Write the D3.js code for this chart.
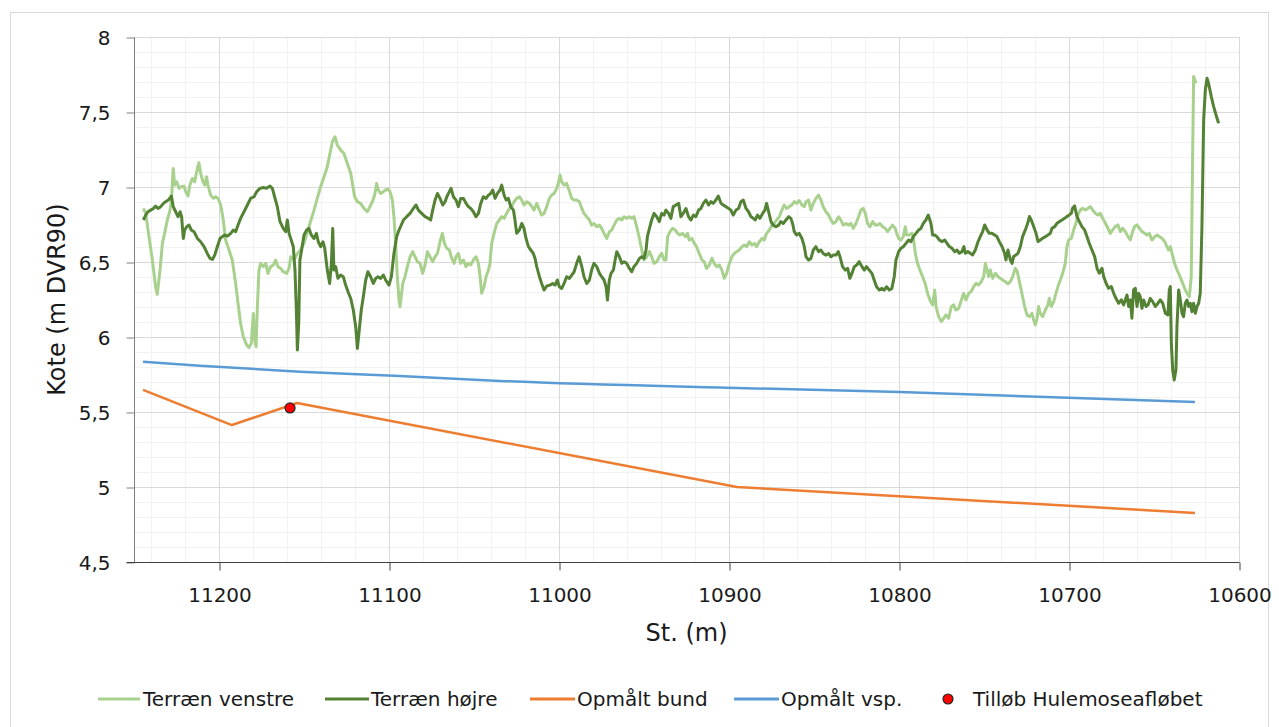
<!DOCTYPE html>
<html>
<head>
<meta charset="utf-8">
<script src="https://cdn.jsdelivr.net/npm/d3@7"></script>
<style>
html,body{margin:0;padding:0;background:#fff;}
svg{display:block;}
text{font-family:"DejaVu Sans",sans-serif;fill:#1a1a1a;}
</style>
</head>
<body>
<svg id="chart" width="1279" height="727"></svg>
<script>
// ---------------- DATA ----------------
const xTicks = [11200, 11100, 11000, 10900, 10800, 10700, 10600];
const yTicks = [4.5, 5, 5.5, 6, 6.5, 7, 7.5, 8];
const yTickLabels = ["4,5", "5", "5,5", "6", "6,5", "7", "7,5", "8"];
const seriesNames = ["Terræn venstre", "Terræn højre", "Opmålt bund", "Opmålt vsp.", "Tilløb Hulemoseafløbet"];

// Terræn venstre [station, kote]
const terraenVenstre = [
[11244.5,6.857],[11243.1,6.824],[11241.2,6.669],[11239.2,6.513],[11237.3,6.335],[11236.3,6.284],[11234.7,6.446],[11233.3,6.624],
[11232.0,6.691],[11230.4,6.78],[11228.8,6.846],[11228.0,6.913],[11226.9,7.124],[11226.1,7.013],[11224.9,7.035],[11223.5,6.991],
[11222.2,7.002],[11220.6,7.006],[11219.6,6.969],[11218.2,6.94],[11217.1,7.013],[11215.7,7.057],[11214.3,7.035],[11212.7,7.124],
[11211.8,7.162],[11210.8,7.091],[11209.4,7.035],[11208.4,7.013],[11207.3,7.069],[11206.5,7.013],[11204.9,6.946],[11203.3,6.924],
[11202.0,6.935],[11200.6,6.924],[11199.0,6.88],[11197.5,6.78],[11196.1,6.646],[11194.1,6.58],[11192.2,6.513],[11190.2,6.357],
[11188.8,6.224],[11187.3,6.091],[11185.7,6.002],[11183.7,5.946],[11182.4,5.931],[11181.0,5.957],[11179.8,6.157],[11179.0,5.98],
[11178.2,5.935],[11177.5,6.18],[11176.5,6.446],[11175.5,6.491],[11173.9,6.469],[11172.5,6.491],[11171.2,6.424],[11169.6,6.469],
[11168.0,6.48],[11166.7,6.513],[11165.3,6.469],[11163.7,6.457],[11162.2,6.435],[11160.2,6.424],[11158.8,6.457],[11157.8,6.535],
[11155.9,6.513],[11153.9,6.557],[11152.0,6.58],[11150.0,6.624],[11147.1,6.735],[11144.1,6.846],[11142.2,6.924],[11140.2,7.002],
[11138.2,7.069],[11136.3,7.135],[11134.7,7.224],[11133.3,7.302],[11131.8,7.335],[11130.4,7.28],[11128.4,7.246],[11126.5,7.224],
[11124.5,7.157],[11122.5,7.091],[11121.2,7.002],[11120.2,6.935],[11118.6,6.902],[11116.7,6.891],[11114.7,6.857],[11112.7,6.835],
[11111.2,6.869],[11109.8,6.902],[11108.4,6.946],[11107.3,7.024],[11106.3,6.98],[11104.9,6.957],[11103.3,6.969],[11102.0,6.98],
[11100.6,6.986],[11099.4,6.969],[11098.0,6.913],[11097.1,6.802],[11096.1,6.624],[11095.1,6.402],[11094.1,6.246],[11093.5,6.202],
[11091.9,6.357],[11090.6,6.402],[11089.2,6.469],[11087.6,6.535],[11086.0,6.569],[11084.7,6.535],[11083.3,6.502],[11081.7,6.491],
[11080.2,6.424],[11078.8,6.48],[11077.4,6.569],[11075.9,6.535],[11074.3,6.502],[11072.9,6.535],[11071.5,6.557],[11070.0,6.635],
[11068.6,6.691],[11067.4,6.624],[11066.0,6.591],[11064.5,6.58],[11063.1,6.524],[11061.7,6.491],[11060.6,6.535],[11059.2,6.557],
[11057.8,6.491],[11056.2,6.513],[11054.7,6.469],[11053.3,6.491],[11051.9,6.48],[11050.4,6.513],[11048.8,6.535],[11047.4,6.491],
[11046.4,6.402],[11045.5,6.291],[11044.1,6.335],[11042.9,6.402],[11041.5,6.446],[11040.6,6.491],[11039.6,6.624],[11038.2,6.691],
[11036.6,6.757],[11035.1,6.78],[11033.7,6.802],[11032.3,6.791],[11030.8,6.824],[11029.2,6.857],[11027.8,6.869],[11026.4,6.902],
[11024.9,6.924],[11023.3,6.935],[11021.9,6.913],[11020.6,6.88],[11019.0,6.902],[11017.4,6.891],[11016.0,6.869],[11014.7,6.846],
[11013.1,6.891],[11011.5,6.846],[11010.2,6.813],[11008.8,6.824],[11007.2,6.869],[11005.7,6.924],[11004.3,6.946],[11002.9,6.957],
[11001.3,6.991],[11000.2,7.035],[10999.4,7.08],[10998.4,7.035],[10997.0,7.013],[10995.5,7.024],[10994.1,6.98],[10992.5,6.924],
[10991.1,6.913],[10989.6,6.913],[10988.0,6.902],[10986.6,6.857],[10985.3,6.824],[10983.7,6.802],[10982.1,6.78],[10980.8,6.746],
[10979.4,6.757],[10977.8,6.735],[10976.2,6.746],[10974.9,6.724],[10973.5,6.691],[10971.9,6.657],[10970.4,6.702],[10969.0,6.713],
[10967.6,6.746],[10966.0,6.78],[10964.5,6.791],[10963.1,6.78],[10961.7,6.802],[10960.2,6.791],[10958.6,6.802],[10957.2,6.791],
[10955.9,6.802],[10954.3,6.735],[10952.7,6.657],[10951.3,6.58],[10950.0,6.513],[10948.4,6.535],[10946.8,6.569],[10945.5,6.535],
[10944.1,6.491],[10942.5,6.502],[10941.0,6.535],[10939.6,6.557],[10938.2,6.513],[10937.1,6.513],[10936.1,6.669],[10934.7,6.702],
[10933.2,6.724],[10931.6,6.713],[10930.2,6.691],[10928.9,6.68],[10927.3,6.691],[10925.7,6.669],[10924.4,6.691],[10923.4,6.646],
[10921.8,6.657],[10920.4,6.624],[10919.1,6.602],[10917.5,6.557],[10915.9,6.513],[10914.6,6.502],[10913.2,6.457],[10911.6,6.48],
[10910.0,6.524],[10908.7,6.491],[10907.3,6.469],[10905.7,6.48],[10904.2,6.446],[10902.8,6.391],[10901.4,6.424],[10899.8,6.491],
[10898.3,6.535],[10896.9,6.557],[10895.5,6.569],[10894.0,6.58],[10892.4,6.602],[10891.0,6.613],[10889.6,6.602],[10888.1,6.635],
[10886.5,6.613],[10885.1,6.624],[10883.8,6.602],[10882.2,6.635],[10880.6,6.657],[10879.3,6.646],[10877.9,6.691],[10876.3,6.713],
[10874.7,6.746],[10873.4,6.757],[10872.0,6.78],[10870.4,6.802],[10868.9,6.846],[10867.5,6.88],[10866.1,6.857],[10864.6,6.869],
[10863.0,6.88],[10861.6,6.902],[10860.2,6.891],[10858.7,6.909],[10857.1,6.88],[10855.7,6.869],[10854.7,6.902],[10853.2,6.913],
[10851.8,6.846],[10850.4,6.891],[10848.9,6.924],[10847.3,6.946],[10845.9,6.913],[10844.6,6.869],[10843.0,6.835],[10841.4,6.813],
[10840.0,6.78],[10838.7,6.757],[10837.1,6.769],[10835.5,6.802],[10834.2,6.78],[10832.8,6.746],[10831.2,6.757],[10829.6,6.746],
[10828.3,6.757],[10826.9,6.724],[10825.3,6.757],[10823.8,6.802],[10822.4,6.846],[10821.0,6.857],[10819.8,6.824],[10818.5,6.757],
[10817.1,6.735],[10815.5,6.769],[10814.0,6.746],[10812.6,6.746],[10811.2,6.757],[10809.6,6.735],[10808.1,6.724],[10806.7,6.702],
[10805.3,6.724],[10803.8,6.746],[10802.2,6.724],[10801.4,6.691],[10800.2,6.657],[10798.9,6.646],[10797.5,6.669],[10796.3,6.735],
[10795.5,6.68],[10794.0,6.68],[10792.4,6.691],[10791.6,6.669],[10790.4,6.557],[10789.1,6.491],[10787.7,6.446],[10786.1,6.402],
[10784.6,6.357],[10783.2,6.291],[10781.8,6.246],[10780.2,6.213],[10779.0,6.314],[10778.2,6.203],[10776.7,6.136],[10775.1,6.103],
[10773.7,6.125],[10772.4,6.147],[10770.8,6.125],[10769.2,6.203],[10767.9,6.214],[10766.5,6.18],[10764.9,6.191],[10763.3,6.247],
[10762.0,6.291],[10760.6,6.247],[10759.0,6.291],[10757.5,6.303],[10756.1,6.336],[10754.7,6.358],[10753.1,6.347],[10751.6,6.369],
[10750.2,6.403],[10749.2,6.491],[10748.2,6.447],[10747.3,6.403],[10746.3,6.447],[10744.9,6.391],[10743.3,6.425],[10741.8,6.403],
[10740.4,6.391],[10739.0,6.38],[10737.5,6.369],[10735.9,6.354],[10734.5,6.369],[10733.1,6.403],[10731.6,6.458],[10730.4,6.436],
[10729.2,6.369],[10727.7,6.291],[10726.1,6.203],[10724.7,6.147],[10723.3,6.136],[10721.8,6.158],[10720.8,6.114],[10719.8,6.08],
[10718.8,6.125],[10717.9,6.203],[10716.9,6.158],[10715.5,6.136],[10713.9,6.18],[10712.4,6.214],[10711.6,6.258],[10710.4,6.203],
[10709.0,6.236],[10707.7,6.291],[10706.5,6.336],[10705.1,6.38],[10703.7,6.425],[10702.2,6.491],[10701.2,6.603],[10700.2,6.647],
[10698.6,6.658],[10697.3,6.714],[10695.9,6.758],[10694.7,6.814],[10693.3,6.847],[10692.0,6.858],[10690.4,6.847],[10688.8,6.858],
[10687.5,6.869],[10686.1,6.847],[10684.5,6.825],[10683.0,6.814],[10681.6,6.825],[10680.2,6.791],[10678.6,6.758],[10677.1,6.725],
[10675.7,6.691],[10674.3,6.714],[10672.8,6.736],[10671.2,6.747],[10669.8,6.703],[10668.4,6.725],[10666.9,6.703],[10665.3,6.669],
[10663.9,6.647],[10662.6,6.703],[10661.4,6.736],[10660.0,6.747],[10658.6,6.725],[10657.1,6.703],[10655.5,6.691],[10654.1,6.68],
[10652.8,6.691],[10651.2,6.647],[10649.6,6.669],[10648.2,6.68],[10646.9,6.669],[10645.3,6.658],[10643.7,6.636],[10642.4,6.603],
[10641.4,6.58],[10640.4,6.603],[10639.4,6.558],[10637.9,6.491],[10636.5,6.447],[10635.1,6.414],[10633.5,6.369],[10632.0,6.325],
[10630.6,6.291],[10629.2,6.269],[10628.1,6.403],[10627.3,7.18],[10626.7,7.736],[10625.7,7.703],[10625.3,7.691]
];

// Terræn højre [station, kote]
const terraenHoejre = [
[11244.5,6.78],[11243.1,6.813],[11241.8,6.835],[11240.2,6.846],[11238.6,6.857],[11237.3,6.873],[11235.9,6.857],[11234.3,6.869],
[11232.7,6.891],[11231.4,6.902],[11229.8,6.913],[11228.0,6.94],[11226.9,6.869],[11225.5,6.835],[11224.1,6.802],[11222.9,6.835],
[11222.0,6.802],[11221.0,6.657],[11220.2,6.713],[11219.0,6.735],[11217.6,6.746],[11216.3,6.713],[11214.7,6.702],[11212.7,6.657],
[11210.8,6.635],[11208.8,6.602],[11206.9,6.557],[11205.3,6.524],[11203.9,6.517],[11202.5,6.546],[11201.0,6.602],[11199.4,6.657],
[11198.0,6.669],[11196.7,6.68],[11195.1,6.673],[11193.1,6.691],[11191.6,6.713],[11190.2,6.702],[11188.8,6.746],[11187.3,6.791],
[11185.3,6.835],[11183.3,6.88],[11181.4,6.924],[11179.4,6.935],[11177.8,6.969],[11175.9,6.991],[11173.9,6.997],[11172.0,6.991],
[11170.0,7.006],[11168.6,6.991],[11167.3,6.935],[11165.7,6.869],[11164.1,6.769],[11162.2,6.724],[11160.8,6.702],[11159.8,6.78],
[11158.8,6.691],[11157.5,6.646],[11156.3,6.602],[11155.3,6.446],[11154.5,6.18],[11153.9,5.913],[11153.1,6.091],[11152.4,6.513],
[11151.4,6.58],[11150.0,6.68],[11148.4,6.713],[11147.1,6.724],[11145.7,6.68],[11144.1,6.657],[11142.7,6.691],[11141.6,6.635],
[11140.2,6.602],[11138.8,6.635],[11137.8,6.591],[11136.3,6.446],[11134.9,6.357],[11133.9,6.491],[11133.1,6.724],[11132.4,6.446],
[11131.4,6.469],[11130.0,6.391],[11128.4,6.413],[11126.9,6.402],[11125.5,6.346],[11124.1,6.302],[11122.5,6.257],[11121.0,6.18],
[11119.6,6.069],[11118.6,5.924],[11117.5,6.046],[11116.3,6.18],[11115.1,6.269],[11113.7,6.38],[11112.4,6.435],[11110.8,6.402],
[11109.2,6.357],[11107.8,6.391],[11106.5,6.402],[11104.9,6.391],[11103.3,6.413],[11102.0,6.38],[11100.0,6.346],[11098.6,6.402],
[11097.1,6.557],[11095.5,6.669],[11094.1,6.713],[11091.5,6.78],[11089.6,6.802],[11087.6,6.824],[11085.7,6.857],[11084.1,6.88],
[11082.7,6.846],[11080.8,6.824],[11078.8,6.802],[11076.8,6.791],[11075.5,6.78],[11074.3,6.846],[11072.9,6.913],[11071.5,6.957],
[11070.0,6.924],[11068.4,6.88],[11067.0,6.902],[11066.0,6.935],[11064.5,6.969],[11063.5,6.991],[11062.1,6.935],[11060.6,6.913],
[11059.2,6.869],[11057.8,6.924],[11056.2,6.924],[11054.7,6.891],[11053.3,6.869],[11051.9,6.857],[11050.4,6.835],[11048.8,6.802],
[11047.4,6.824],[11046.0,6.891],[11044.5,6.935],[11042.9,6.924],[11041.5,6.946],[11040.2,6.957],[11039.0,6.98],[11037.6,6.924],
[11036.2,6.957],[11034.7,6.98],[11033.7,7.013],[11032.3,6.946],[11031.1,6.913],[11029.8,6.924],[11028.4,6.869],[11026.8,6.846],
[11025.9,6.78],[11024.9,6.691],[11023.3,6.713],[11021.9,6.757],[11020.6,6.724],[11019.4,6.657],[11018.0,6.602],[11016.6,6.58],
[11015.1,6.557],[11014.1,6.524],[11013.1,6.469],[11011.5,6.402],[11010.2,6.357],[11008.8,6.313],[11007.2,6.34],[11005.3,6.346],
[11003.7,6.357],[11002.3,6.346],[11001.0,6.38],[10999.8,6.335],[10998.4,6.324],[10997.0,6.357],[10995.5,6.402],[10993.9,6.391],
[10992.5,6.413],[10991.1,6.435],[10989.6,6.491],[10988.2,6.535],[10986.6,6.469],[10985.3,6.402],[10983.7,6.357],[10982.1,6.38],
[10980.8,6.446],[10979.4,6.491],[10977.8,6.469],[10976.2,6.424],[10974.9,6.402],[10973.5,6.38],[10972.3,6.335],[10971.5,6.246],
[10970.4,6.38],[10969.4,6.424],[10968.0,6.446],[10967.0,6.513],[10966.0,6.569],[10964.5,6.535],[10963.1,6.491],[10961.7,6.502],
[10960.2,6.491],[10958.6,6.457],[10957.2,6.435],[10955.9,6.469],[10954.3,6.491],[10952.7,6.524],[10951.3,6.535],[10950.0,6.524],
[10948.8,6.58],[10948.0,6.669],[10946.8,6.724],[10945.5,6.78],[10944.1,6.824],[10942.5,6.802],[10941.0,6.769],[10939.6,6.824],
[10938.2,6.813],[10937.1,6.846],[10935.5,6.824],[10934.2,6.791],[10932.8,6.869],[10931.2,6.88],[10929.6,6.891],[10928.3,6.802],
[10926.9,6.824],[10925.3,6.857],[10923.8,6.802],[10922.4,6.78],[10921.0,6.813],[10919.5,6.802],[10917.9,6.846],[10916.5,6.857],
[10915.1,6.891],[10913.6,6.913],[10912.0,6.88],[10910.6,6.902],[10909.3,6.891],[10907.7,6.913],[10906.3,6.94],[10904.7,6.891],
[10903.4,6.88],[10901.8,6.869],[10900.2,6.857],[10898.9,6.846],[10897.5,6.813],[10895.9,6.846],[10894.4,6.857],[10893.0,6.902],
[10891.6,6.913],[10890.0,6.857],[10888.5,6.835],[10887.1,6.802],[10885.7,6.791],[10884.6,6.78],[10883.2,6.813],[10881.8,6.791],
[10880.2,6.824],[10878.9,6.846],[10877.9,6.891],[10876.7,6.835],[10875.3,6.769],[10874.0,6.746],[10872.4,6.735],[10870.8,6.746],
[10869.5,6.769],[10868.1,6.757],[10866.5,6.78],[10864.9,6.802],[10863.6,6.791],[10862.6,6.757],[10861.6,6.702],[10860.2,6.68],
[10858.7,6.691],[10857.1,6.657],[10855.7,6.602],[10854.7,6.535],[10853.2,6.513],[10851.8,6.524],[10850.4,6.58],[10848.9,6.602],
[10847.3,6.569],[10845.9,6.58],[10844.6,6.557],[10843.0,6.546],[10841.4,6.557],[10840.0,6.535],[10838.7,6.546],[10837.1,6.546],
[10835.7,6.569],[10834.7,6.535],[10833.2,6.469],[10831.6,6.446],[10830.2,6.457],[10828.9,6.391],[10827.7,6.424],[10826.3,6.469],
[10824.9,6.48],[10823.4,6.502],[10821.8,6.469],[10820.4,6.446],[10819.1,6.469],[10817.5,6.446],[10815.9,6.424],[10814.6,6.38],
[10813.2,6.335],[10811.6,6.313],[10810.0,6.324],[10808.7,6.313],[10807.3,6.335],[10805.7,6.313],[10804.2,6.324],[10802.8,6.402],
[10801.8,6.513],[10800.2,6.569],[10798.9,6.591],[10797.5,6.602],[10795.9,6.624],[10794.4,6.646],[10793.0,6.635],[10791.6,6.669],
[10790.0,6.691],[10788.5,6.713],[10787.1,6.724],[10785.7,6.757],[10784.2,6.78],[10782.8,6.813],[10781.2,6.757],[10780.2,6.68],
[10779.0,6.68],[10777.7,6.669],[10776.3,6.647],[10774.7,6.636],[10773.1,6.647],[10771.8,6.625],[10770.4,6.603],[10768.8,6.591],
[10767.3,6.569],[10765.9,6.58],[10764.5,6.558],[10763.0,6.569],[10761.8,6.603],[10761.0,6.558],[10759.4,6.569],[10758.1,6.558],
[10756.7,6.547],[10755.1,6.58],[10753.5,6.636],[10752.2,6.669],[10750.8,6.703],[10749.6,6.747],[10748.2,6.714],[10746.9,6.691],
[10745.3,6.691],[10743.7,6.68],[10742.4,6.669],[10741.0,6.636],[10739.4,6.603],[10737.9,6.558],[10737.1,6.514],[10735.9,6.58],
[10734.5,6.514],[10733.5,6.491],[10732.6,6.536],[10731.2,6.547],[10730.0,6.558],[10728.6,6.603],[10727.3,6.669],[10725.7,6.714],
[10724.3,6.758],[10723.3,6.803],[10722.2,6.78],[10720.8,6.736],[10719.4,6.691],[10718.2,6.636],[10716.9,6.647],[10715.5,6.658],
[10713.9,6.669],[10712.4,6.68],[10711.0,6.691],[10710.0,6.725],[10708.4,6.736],[10707.1,6.758],[10705.7,6.769],[10704.1,6.78],
[10702.6,6.791],[10701.2,6.803],[10699.8,6.814],[10698.6,6.825],[10697.9,6.858],[10696.7,6.874],[10695.3,6.803],[10693.9,6.769],
[10692.4,6.736],[10690.8,6.714],[10689.4,6.669],[10688.1,6.625],[10686.5,6.58],[10684.9,6.536],[10683.5,6.458],[10682.2,6.425],
[10680.6,6.458],[10679.6,6.403],[10678.2,6.358],[10676.7,6.325],[10675.1,6.336],[10673.7,6.291],[10672.4,6.258],[10670.8,6.225],
[10669.2,6.247],[10667.9,6.214],[10666.9,6.247],[10665.9,6.28],[10664.9,6.203],[10663.9,6.247],[10663.0,6.125],[10662.0,6.314],
[10661.0,6.325],[10660.0,6.203],[10659.0,6.291],[10658.1,6.269],[10657.1,6.191],[10656.1,6.247],[10654.7,6.203],[10653.5,6.214],
[10652.2,6.258],[10650.8,6.236],[10649.2,6.203],[10647.7,6.225],[10646.3,6.247],[10644.9,6.225],[10643.3,6.158],[10641.8,6.147],
[10641.0,6.314],[10640.4,6.336],[10639.8,5.958],[10639.0,5.78],[10638.1,5.714],[10637.1,5.78],[10636.5,6.069],[10635.5,6.314],
[10634.5,6.247],[10633.5,6.158],[10632.6,6.136],[10631.6,6.225],[10630.6,6.247],[10629.6,6.203],[10628.6,6.225],[10627.7,6.169],
[10626.7,6.225],[10625.7,6.158],[10624.7,6.203],[10623.7,6.225],[10622.8,6.291],[10621.8,6.736],[10620.8,7.447],[10619.8,7.647],
[10618.8,7.725],[10617.9,7.691],[10616.3,7.603],[10614.9,7.536],[10613.5,7.48],[10612.0,7.425]
];

// Opmålt bund [station, kote]
const opmaaltBund = [[11244.7,5.647],[11192.4,5.413],[11154.1,5.56],[10895.3,5.0],[10625.9,4.827]];
// Opmålt vsp. [station, kote]
const opmaaltVsp = [[11244.7,5.835],[11211.2,5.809],[11152.4,5.769],[11093.5,5.74],[11034.7,5.707],[10895.3,5.66],[10799.4,5.633],[10625.9,5.567]];
// Tilløb Hulemoseafløbet [station, kote]
const tilloeb = [[11158.2,5.527]];

// ---------------- CHART ----------------
const svg = d3.select("#chart");
const W = 1279, H = 727;
const plot = {left: 134, right: 1239, top: 37, bottom: 562};

const x = d3.scaleLinear().domain([11250, 10600]).range([plot.left, plot.right]);
const y = d3.scaleLinear().domain([4.5, 8]).range([plot.bottom, plot.top]);

// chart border
svg.append("rect").attr("x", 10.5).attr("y", 12.5).attr("width", 1258).attr("height", 730)
  .attr("fill", "#fff").attr("stroke", "#d9d9d9").attr("stroke-width", 1);

// gridlines
const g = svg.append("g");
const minorX = d3.range(11240, 10599, -20).filter(v => Math.abs(v % 100) > 1e-6);
const minorY = d3.range(45, 81, 1).map(v => v / 10).filter(v => Math.abs((v * 2) - Math.round(v * 2)) > 1e-6);

g.selectAll(".mx").data(minorX).join("line")
  .attr("x1", d => Math.round(x(d)) + 0.5).attr("x2", d => Math.round(x(d)) + 0.5)
  .attr("y1", plot.top).attr("y2", plot.bottom)
  .attr("stroke", "#f2f2f2").attr("stroke-width", 1);
g.selectAll(".my").data(minorY).join("line")
  .attr("y1", d => Math.round(y(d)) + 0.5).attr("y2", d => Math.round(y(d)) + 0.5)
  .attr("x1", plot.left).attr("x2", plot.right)
  .attr("stroke", "#f2f2f2").attr("stroke-width", 1);
g.selectAll(".Mx").data(xTicks).join("line")
  .attr("x1", d => Math.round(x(d)) + 0.5).attr("x2", d => Math.round(x(d)) + 0.5)
  .attr("y1", plot.top).attr("y2", plot.bottom)
  .attr("stroke", "#d9d9d9").attr("stroke-width", 1);
g.selectAll(".My").data(yTicks.slice(1)).join("line")
  .attr("y1", d => Math.round(y(d)) + 0.5).attr("y2", d => Math.round(y(d)) + 0.5)
  .attr("x1", plot.left).attr("x2", plot.right)
  .attr("stroke", "#d9d9d9").attr("stroke-width", 1);

// axes
const yAxis = d3.axisLeft(y).tickValues(yTicks).tickSize(8)
  .tickFormat((d, i) => yTickLabels[i]).tickPadding(16);
const ya = svg.append("g").attr("transform", `translate(${plot.left + 0.5},0.5)`).call(yAxis);
ya.select(".domain").attr("stroke", "#808080").attr("d", `M0,${plot.top}V${plot.bottom}`);
ya.selectAll(".tick line").attr("stroke", "#808080");
ya.selectAll(".tick text").attr("font-size", 20).attr("fill", "#1a1a1a")
  .attr("font-family", "DejaVu Sans").attr("dy", "0.36em");

const xAxis = d3.axisBottom(x).tickValues(xTicks).tickSize(8).tickFormat(d3.format("d")).tickPadding(17);
const xa = svg.append("g").attr("transform", `translate(0.5,${plot.bottom + 0.5})`).call(xAxis);
xa.select(".domain").attr("stroke", "#404040").attr("d", `M${plot.left - 8},0H${plot.right}`);
xa.selectAll(".tick line").attr("stroke", "#404040");
xa.selectAll(".tick text").attr("font-size", 20).attr("fill", "#1a1a1a").attr("font-family", "DejaVu Sans");

// axis titles
svg.append("text").attr("transform", `translate(57,${(plot.top + plot.bottom) / 2}) rotate(-90)`)
  .attr("text-anchor", "middle").attr("dominant-baseline", "central")
  .attr("font-size", 24).text("Kote (m DVR90)");
svg.append("text").attr("x", (plot.left + plot.right) / 2).attr("y", 641)
  .attr("text-anchor", "middle").attr("font-size", 24).text("St. (m)");

// lines
const line = d3.line().x(d => x(d[0])).y(d => y(d[1]));
const plotG = svg.append("g");
plotG.append("path").datum(terraenVenstre).attr("d", line)
  .attr("fill", "none").attr("stroke", "#a9d18e").attr("stroke-width", 3).attr("stroke-linejoin", "round");
plotG.append("path").datum(terraenHoejre).attr("d", line)
  .attr("fill", "none").attr("stroke", "#548235").attr("stroke-width", 3).attr("stroke-linejoin", "round");
plotG.append("path").datum(opmaaltBund).attr("d", line)
  .attr("fill", "none").attr("stroke", "#ed7d31").attr("stroke-width", 2.5).attr("stroke-linejoin", "round");
plotG.append("path").datum(opmaaltVsp).attr("d", d3.line().x(d => x(d[0])).y(d => y(d[1])).curve(d3.curveMonotoneX))
  .attr("fill", "none").attr("stroke", "#5b9bd5").attr("stroke-width", 2.5);
plotG.selectAll(".inlet").data(tilloeb).join("circle")
  .attr("cx", d => x(d[0])).attr("cy", d => y(d[1])).attr("r", 5)
  .attr("fill", "#ff0000").attr("stroke", "#262626").attr("stroke-width", 1.2);

// legend
const legendItems = [
  {name: seriesNames[0], type: "line", color: "#a9d18e", x0: 98, x1: 140, tx: 143},
  {name: seriesNames[1], type: "line", color: "#548235", x0: 325, x1: 369, tx: 371},
  {name: seriesNames[2], type: "line", color: "#ed7d31", x0: 530, x1: 575, tx: 577},
  {name: seriesNames[3], type: "line", color: "#5b9bd5", x0: 734, x1: 779, tx: 781},
  {name: seriesNames[4], type: "dot", color: "#ff0000", cx: 948, tx: 973}
];
const ly = 699;
const lg = svg.append("g");
legendItems.forEach(it => {
  if (it.type === "line") {
    lg.append("line").attr("x1", it.x0).attr("x2", it.x1).attr("y1", ly).attr("y2", ly)
      .attr("stroke", it.color).attr("stroke-width", 3);
  } else {
    lg.append("circle").attr("cx", it.cx).attr("cy", ly).attr("r", 5)
      .attr("fill", it.color).attr("stroke", "#262626").attr("stroke-width", 1.2);
  }
  lg.append("text").attr("x", it.tx).attr("y", ly).attr("dominant-baseline", "central")
    .attr("font-size", 20).text(it.name);
});
</script>
</body>
</html>
